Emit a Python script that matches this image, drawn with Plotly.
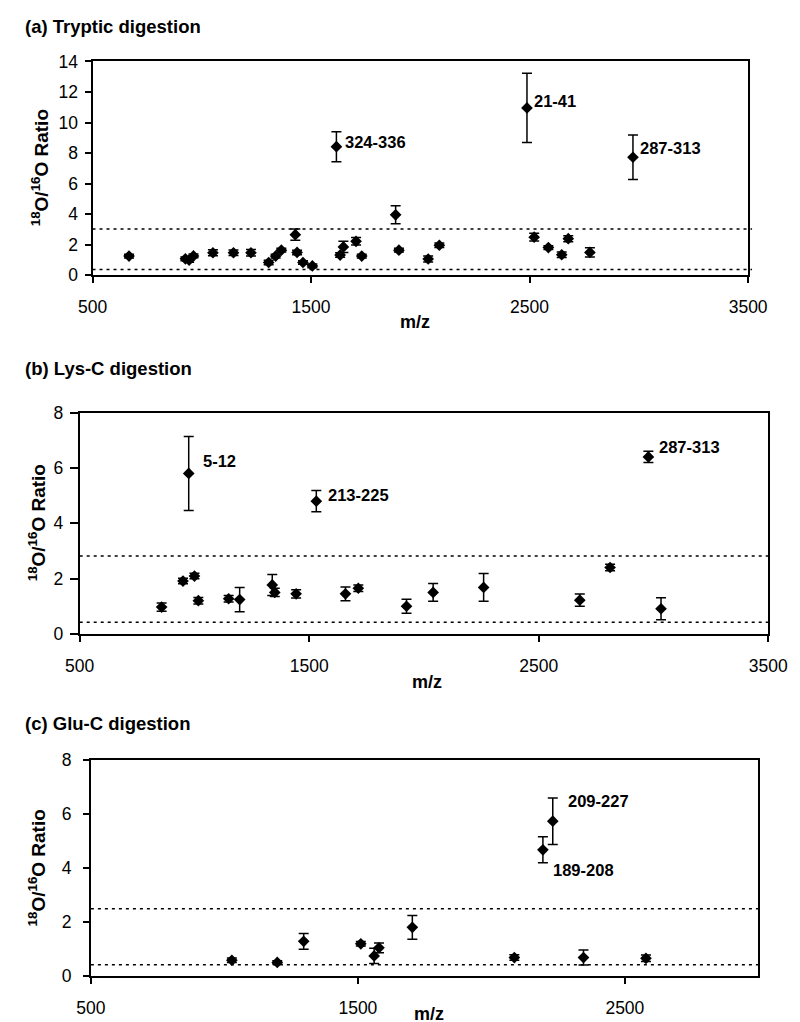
import plotly.graph_objects as go

# ---------------- data ----------------
# (a) Tryptic digestion
mz_a = [667, 925, 942, 962, 1051, 1145, 1225, 1306, 1338, 1364, 1428, 1436, 1463, 1506,
        1616, 1633, 1648, 1706, 1732, 1887, 1902, 2036, 2087, 2488, 2521, 2586, 2647,
        2677, 2776, 2973]
ratio_a = [1.26, 1.08, 1.0, 1.27, 1.48, 1.48, 1.48, 0.84, 1.26, 1.65, 2.66, 1.5, 0.84, 0.62,
           8.42, 1.33, 1.86, 2.23, 1.26, 3.96, 1.65, 1.07, 1.97, 10.96, 2.5, 1.82, 1.35,
           2.4, 1.5, 7.73]
err_a = [0.12, 0.12, 0.15, 0.12, 0.2, 0.18, 0.22, 0.15, 0.12, 0.12, 0.37, 0.15, 0.12, 0.12,
         0.98, 0.15, 0.37, 0.25, 0.12, 0.59, 0.12, 0.2, 0.15, 2.26, 0.25, 0.12, 0.18,
         0.2, 0.3, 1.45]
labels_a = {1616: "324-336", 2488: "21-41", 2973: "287-313"}
thresh_a = [3.03, 0.38]

# (b) Lys-C digestion
mz_b = [857, 950, 975, 1000, 1017, 1149, 1197, 1339, 1350, 1443, 1531, 1658, 1714, 1924,
        2040, 2260, 2679, 2811, 2978, 3033]
ratio_b = [0.97, 1.91, 5.8, 2.09, 1.2, 1.27, 1.24, 1.77, 1.5, 1.45, 4.8, 1.45, 1.65, 1.0,
           1.5, 1.68, 1.22, 2.4, 6.4, 0.91]
err_b = [0.15, 0.1, 1.34, 0.1, 0.12, 0.12, 0.44, 0.38, 0.15, 0.15, 0.38, 0.25, 0.12, 0.25,
         0.32, 0.5, 0.22, 0.12, 0.2, 0.4]
labels_b = {975: "5-12", 1531: "213-225", 2978: "287-313"}
thresh_b = [2.82, 0.42]

# (c) Glu-C digestion
mz_c = [1028, 1198, 1297, 1511, 1561, 1579, 1704, 2086, 2193, 2230, 2345, 2579]
ratio_c = [0.59, 0.51, 1.29, 1.2, 0.75, 1.05, 1.81, 0.69, 4.68, 5.74, 0.69, 0.66]
err_c = [0.08, 0.06, 0.29, 0.08, 0.28, 0.18, 0.44, 0.1, 0.48, 0.86, 0.28, 0.12]
labels_c = {2230: "209-227", 2193: "189-208"}
thresh_c = [2.5, 0.42]

titles = ["(a) Tryptic digestion", "(b) Lys-C digestion", "(c) Glu-C digestion"]
x_ticks = [[500, 1500, 2500, 3500], [500, 1500, 2500, 3500], [500, 1500, 2500]]

# ---------------- layout geometry (pixels) ----------------
W, H = 800, 1022
FONT = "Arial, Liberation Sans, sans-serif"

def px_x(p):
    return p / W

def px_y(p):
    return 1 - p / H

panels = [
    dict(mz=mz_a, r=ratio_a, e=err_a, lab=labels_a, th=thresh_a,
         xpx=(72.7, 758.3), ypx=(44.3, 262.5), xr=[500, 3500], yr=[0, 14],
         title_y=9, mz_pos=(410, 310), ytitle=(18, 153), ystand=3, ylen=6,
         shifts={1616: (7, 5), 2488: (5, 7), 2973: (5, 9)}),
    dict(mz=mz_b, r=ratio_b, e=err_b, lab=labels_b, th=thresh_b,
         xpx=(59.3, 779.3), ypx=(402.5, 628.2), xr=[500, 3500], yr=[0, 8],
         title_y=357, mz_pos=(423, 677), ytitle=(15, 515), ystand=3, ylen=8,
         shifts={975: (12, 12), 1531: (10, 6), 2978: (9, 10)}),
    dict(mz=mz_c, r=ratio_c, e=err_c, lab=labels_c, th=thresh_c,
         xpx=(71.0, 769.0), ypx=(757.0, 977.3), xr=[500, 3000], yr=[0, 8],
         title_y=720, mz_pos=(425, 1016), ytitle=(15, 867), ystand=8, ylen=6,
         shifts={2230: (13, 20), 2193: (8, -20)}),
]

fig = go.Figure()
annotations = []
shapes = []

for i, p in enumerate(panels):
    n = "" if i == 0 else str(i + 1)
    xa, ya = "x" + n, "y" + n
    fig.add_trace(go.Scatter(
        x=p["mz"], y=p["r"], mode="markers",
        marker=dict(symbol="diamond", size=9, color="black"),
        error_y=dict(type="data", array=p["e"], visible=True, color="black",
                     thickness=1.5, width=5),
        xaxis=xa, yaxis=ya, showlegend=False, cliponaxis=False,
    ))
    axis_common = dict(showgrid=False, zeroline=False, showline=True, linecolor="black",
                       linewidth=2, mirror=True, ticks="outside",
                       tickwidth=1.5, tickcolor="black",
                       tickfont=dict(family=FONT, size=17.5, color="black"))
    fig.update_layout({
        ("xaxis" + n): dict(axis_common, domain=[px_x(p["xpx"][0]), px_x(p["xpx"][1])],
                            range=p["xr"], tickvals=x_ticks[i], anchor=ya, ticklen=6,
                            ticklabelstandoff=9),
        ("yaxis" + n): dict(axis_common, domain=[px_y(p["ypx"][1]), px_y(p["ypx"][0])],
                            range=p["yr"], dtick=2, anchor=xa, ticklen=p["ylen"],
                            ticklabelstandoff=p["ystand"]),
    })
    for t in p["th"]:
        shapes.append(dict(type="line", xref=xa + " domain", yref=ya, x0=0, x1=1.006,
                           y0=t, y1=t, line=dict(color="black", width=1.5, dash="3px,4px")))
    for mzv, txt in p["lab"].items():
        k = p["mz"].index(mzv)
        dx, dy = p["shifts"][mzv]
        annotations.append(dict(x=mzv, y=p["r"][k], xref=xa, yref=ya, text="<b>%s</b>" % txt,
                                showarrow=False, xanchor="left", yanchor="middle",
                                xshift=dx, yshift=dy,
                                font=dict(family=FONT, size=16.5, color="black")))
    annotations.append(dict(x=px_x(0), y=px_y(p["title_y"]), xref="paper", yref="paper",
                            text="<b>%s</b>" % titles[i], showarrow=False,
                            xanchor="left", yanchor="middle",
                            font=dict(family=FONT, size=18.5, color="black")))
    annotations.append(dict(x=px_x(p["mz_pos"][0]), y=px_y(p["mz_pos"][1]), xref="paper",
                            yref="paper", text="<b>m/z</b>", showarrow=False,
                            xanchor="center", yanchor="middle",
                            font=dict(family=FONT, size=18, color="black")))
    annotations.append(dict(x=px_x(p["ytitle"][0]), y=px_y(p["ytitle"][1]), xref="paper",
                            yref="paper", text="<b><sup>18</sup>O/<sup>16</sup>O Ratio</b>",
                            showarrow=False, textangle=-90, xanchor="center",
                            yanchor="middle",
                            font=dict(family=FONT, size=19, color="black")))

fig.update_layout(width=W, height=H, margin=dict(l=0, r=0, t=0, b=0),
                  plot_bgcolor="white", paper_bgcolor="white",
                  annotations=annotations, shapes=shapes, showlegend=False)

fig.write_html("out.html")
